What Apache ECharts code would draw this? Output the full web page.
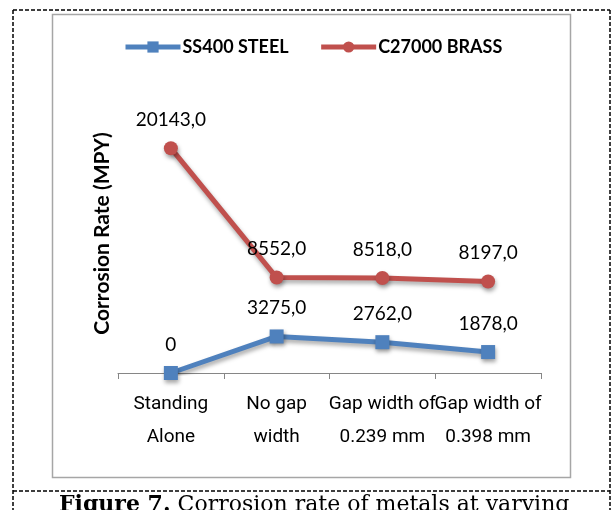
<!DOCTYPE html>
<html>
<head>
<meta charset="utf-8">
<script src="https://cdn.jsdelivr.net/npm/echarts@6/dist/echarts.min.js"></script>
<style>
html,body{margin:0;padding:0;background:#fff;}
#c{width:613px;height:510px;}
</style>
</head>
<body>
<div id="c"></div>
<script>
const categories = ['Standing\nAlone', 'No gap\nwidth', 'Gap width of\n0.239 mm', 'Gap width of\n0.398 mm'];
const steelValues = [0, 3275, 2762, 1878];
const brassValues = [20143, 8552, 8518, 8197];
const seriesNames = ['SS400 STEEL', 'C27000 BRASS'];
const yAxisTitle = 'Corrosion Rate (MPY)';
const captionBold = 'Figure 7.';
const captionRest = ' Corrosion rate of metals at varying';

const chart = echarts.init(document.getElementById('c'), null, {renderer: 'canvas'});
const fmt = v => (v === 0 ? '0' : v + ',0');
const labelStyle = {
  show: true, position: 'top', distance: 12,
  fontFamily: 'Lato', fontSize: 19, color: '#000',
  formatter: p => fmt(p.value)
};
const shadow = {shadowColor: 'rgba(0,0,0,0.35)', shadowBlur: 4, shadowOffsetX: 1, shadowOffsetY: 3};

chart.setOption({
  animation: false,
  backgroundColor: '#fff',
  graphic: [
    {type: 'rect', shape: {x: 52.5, y: 14.5, width: 518, height: 463}, style: {fill: 'none', stroke: '#a6a6a6', lineWidth: 1.5}, z: -1},
    {type: 'line', shape: {x1: 13, y1: 10, x2: 610, y2: 10}, style: {stroke: '#000', lineDash: [4, 2], lineWidth: 1.5}},
    {type: 'line', shape: {x1: 13, y1: 491, x2: 610, y2: 491}, style: {stroke: '#000', lineDash: [4, 2], lineWidth: 1.5}},
    {type: 'line', shape: {x1: 13, y1: 10, x2: 13, y2: 510}, style: {stroke: '#000', lineDash: [4, 2], lineWidth: 1.5}},
    {type: 'line', shape: {x1: 610, y1: 10, x2: 610, y2: 510}, style: {stroke: '#000', lineDash: [4, 2], lineWidth: 1.5}},
    {type: 'text', left: 59, top: 494, style: {
      text: '{b|' + captionBold + '}{r|' + captionRest + '}',
      rich: {
        b: {fontFamily: 'DejaVu Serif', fontWeight: 'bold', fontSize: 22, fill: '#000'},
        r: {fontFamily: 'DejaVu Serif', fontSize: 22, fill: '#000'}
      }
    }}
  ],
  legend: {
    data: seriesNames,
    left: 118, top: 33,
    itemWidth: 55, itemHeight: 14, itemGap: 30,
    lineStyle: {width: 5},
    textStyle: {fontFamily: 'Lato', fontWeight: 'bold', fontSize: 18, color: '#000', padding: [0, 0, 0, -3]}
  },
  grid: {left: 118, right: 72, top: 94, bottom: 137, containLabel: false},
  xAxis: {
    type: 'category', data: categories, boundaryGap: true,
    axisLine: {lineStyle: {color: '#868686', width: 1}},
    axisTick: {show: true, length: 6, lineStyle: {color: '#868686'}},
    axisLabel: {interval: 0, hideOverlap: false, margin: 15, fontFamily: 'Roboto', fontSize: 19, lineHeight: 33, color: '#000'}
  },
  yAxis: {
    type: 'value', min: 0, max: 25000,
    axisLine: {show: false}, axisTick: {show: false}, axisLabel: {show: false}, splitLine: {show: false},
    name: yAxisTitle, nameLocation: 'middle', nameGap: 5, nameRotate: 90,
    nameTextStyle: {fontFamily: 'Lato', fontWeight: 'bold', fontSize: 21, color: '#000'}
  },
  series: [
    {
      name: seriesNames[0], type: 'line', data: steelValues,
      symbol: 'rect', symbolSize: 14,
      lineStyle: Object.assign({color: '#4f81bd', width: 5}, shadow),
      itemStyle: Object.assign({color: '#4f81bd'}, shadow),
      label: labelStyle
    },
    {
      name: seriesNames[1], type: 'line', data: brassValues,
      symbol: 'circle', symbolSize: 14,
      lineStyle: Object.assign({color: '#c0504d', width: 5}, shadow),
      itemStyle: Object.assign({color: '#c0504d'}, shadow),
      label: labelStyle
    }
  ]
});
</script>
</body>
</html>
